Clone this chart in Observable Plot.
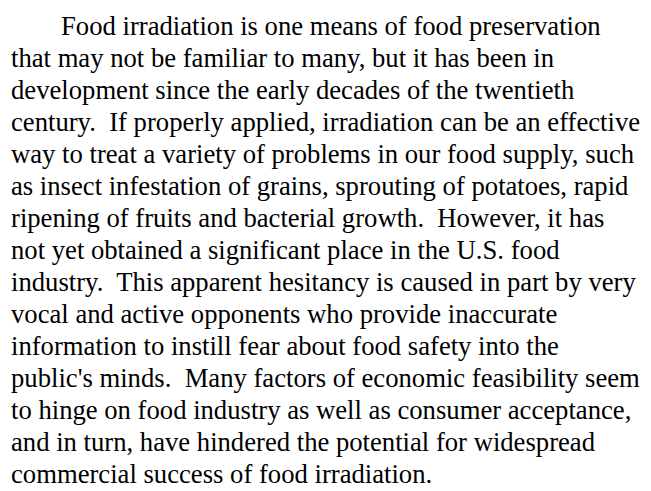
<!DOCTYPE html>
<html>
<head>
<meta charset="utf-8">
<script src="https://cdn.jsdelivr.net/npm/d3@7"></script>
<script src="https://cdn.jsdelivr.net/npm/@observablehq/plot@0.6"></script>
<style>
  html, body { margin: 0; padding: 0; background: #fff; }
  #chart svg text { white-space: pre; }
</style>
</head>
<body>
<div id="chart"></div>
<script>
const firstLine = ["Food irradiation is one means of food preservation"];
const bodyLines = [
  "that may not be familiar to many, but it has been in",
  "development since the early decades of the twentieth",
  "century.  If properly applied, irradiation can be an effective",
  "way to treat a variety of problems in our food supply, such",
  "as insect infestation of grains, sprouting of potatoes, rapid",
  "ripening of fruits and bacterial growth.  However, it has",
  "not yet obtained a significant place in the U.S. food",
  "industry.  This apparent hesitancy is caused in part by very",
  "vocal and active opponents who provide inaccurate",
  "information to instill fear about food safety into the",
  "public's minds.  Many factors of economic feasibility seem",
  "to hinge on food industry as well as consumer acceptance,",
  "and in turn, have hindered the potential for widespread",
  "commercial success of food irradiation."
];

const lines = firstLine.concat(bodyLines).map((text, i) => ({line: i, text, first: i === 0}));

const plot = Plot.plot({
  width: 651,
  height: 491,
  marginLeft: 10.5,
  marginRight: 0,
  marginTop: 21.5,
  marginBottom: 13.5,
  style: {background: "#fff", fontFamily: "'Liberation Serif', 'Times New Roman', serif"},
  y: {type: "point", domain: d3.range(lines.length), padding: 0, axis: null},
  marks: [
    Plot.text(lines.filter(d => d.first), {
      y: "line", text: "text", frameAnchor: "left", textAnchor: "start",
      dx: 50, fontSize: 26.67, fill: "#000"
    }),
    Plot.text(lines.filter(d => !d.first), {
      y: "line", text: "text", frameAnchor: "left", textAnchor: "start",
      fontSize: 26.67, fill: "#000"
    })
  ]
});
document.getElementById("chart").appendChild(plot);
</script>
</body>
</html>
